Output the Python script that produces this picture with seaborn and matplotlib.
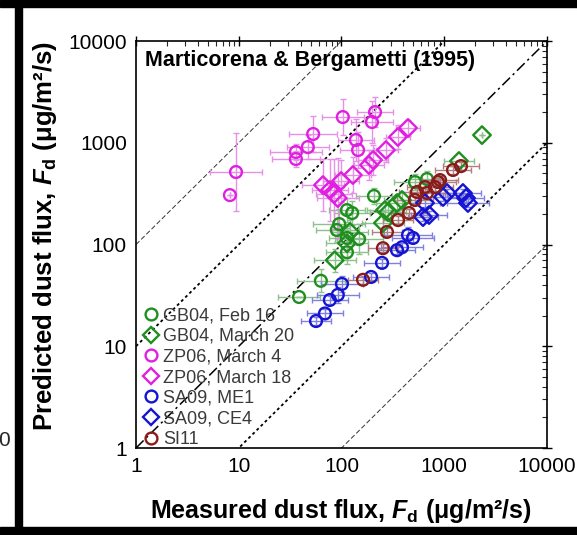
import numpy as np
import pandas as pd
import matplotlib
matplotlib.use("Agg")
import matplotlib.pyplot as plt
from matplotlib.lines import Line2D
from matplotlib.patches import Rectangle
import seaborn as sns

sns.set_theme(style="white")
plt.rcParams['font.family'] = ['Liberation Sans', 'DejaVu Sans']
plt.rcParams['mathtext.fontset'] = 'custom'
plt.rcParams['mathtext.rm'] = 'Liberation Sans:bold'
plt.rcParams['mathtext.it'] = 'Liberation Sans:italic:bold'
plt.rcParams['mathtext.bf'] = 'Liberation Sans:bold'

# ---- data (measured, predicted, x error factor, y error factor) ----
gb04_feb_x = [38.6, 63, 113, 127, 95, 90, 113, 148, 113, 207, 519, 679]
gb04_feb_y = [30.5, 44, 218, 204, 159, 139, 116, 113, 84, 300, 411, 440]
gb04_feb_xf = [1.6, 1.7, 1.5, 1.5, 1.8, 1.6, 1.5, 1.7, 1.6, 1.5, 1.6, 1.5]
gb04_feb_yf = [1.0, 1.3, 1.3, 1.3, 1.4, 1.3, 1.3, 1.4, 1.3, 1.2, 1.2, 1.2]

gb04_mar_x = [86, 121, 113, 265, 284, 347, 388, 253, 1390, 2330]
gb04_mar_y = [70, 133, 103, 218, 208, 256, 274, 163, 662, 1190]
gb04_mar_xf = [1.6, 1.5, 1.6, 1.5, 1.5, 1.6, 1.5, 1.6, 1.4, 1.0]
gb04_mar_yf = [1.3, 1.3, 1.4, 1.2, 1.2, 1.2, 1.2, 1.3, 1.0, 1.0]

zp06_m4_x = [9.4, 8.2, 36, 36, 47, 53, 103, 138, 145, 198, 212]
zp06_m4_y = [516, 306, 811, 692, 908, 1220, 1790, 1065, 849, 1600, 2000]
zp06_m4_xf = [1.8, 1.0, 1.8, 1.7, 1.6, 1.7, 1.6, 1.5, 1.5, 1.6, 1.5]
zp06_m4_yf = [2.4, 1.0, 1.2, 1.2, 1.3, 1.5, 1.5, 1.6, 1.5, 1.6, 1.4]

zp06_m18_x = [66, 77, 85, 92, 99, 129, 185, 203, 271, 354, 444]
zp06_m18_y = [384, 343, 314, 286, 421, 482, 604, 677, 849, 1140, 1400]
zp06_m18_xf = [1.6, 1.5, 1.5, 1.6, 1.5, 1.5, 1.4, 1.4, 1.3, 1.3, 1.3]
zp06_m18_yf = [1.8, 2.0, 2.2, 2.5, 1.6, 1.5, 1.4, 1.4, 1.3, 1.3, 1.2]

sa09_me1_x = [56.5, 69, 77, 92, 101, 194, 248, 347, 388, 444, 497]
sa09_me1_y = [17.7, 21, 28.5, 32, 41, 48, 66, 88, 94, 124, 116]
sa09_me1_xf = [1.4, 1.5, 1.5, 1.6, 1.6, 1.5, 1.5, 1.5, 1.6, 1.7, 1.6]
sa09_me1_yf = [1.1, 1.1, 1.1, 1.2, 1.2, 1.1, 1.1, 1.1, 1.1, 1.2, 1.1]

sa09_ce4_x = [621, 711, 650, 973, 1064, 1520, 1630, 1700]
sa09_ce4_y = [186, 195, 256, 293, 321, 321, 286, 256]
sa09_ce4_xf = [1.4, 1.5, 1.4, 1.5, 1.4, 1.5, 1.5, 1.6]
sa09_ce4_yf = [1.1, 1.1, 1.1, 1.1, 1.1, 1.1, 1.1, 1.1]

si11_x = [162, 253, 277, 355, 454, 519, 543, 650, 679, 813, 869, 910, 1217, 1455]
si11_y = [45, 92, 133, 174, 204, 274, 328, 367, 321, 367, 411, 430, 540, 590]
si11_xf = [1.4, 1.4, 1.4, 1.4, 1.5, 1.5, 1.5, 1.5, 1.5, 1.5, 1.5, 1.5, 1.5, 1.5]
si11_yf = [1.1, 1.1, 1.1, 1.1, 1.1, 1.1, 1.1, 1.1, 1.1, 1.1, 1.1, 1.1, 1.1, 1.1]

labels = ["GB04, Feb 16", "GB04, March 20", "ZP06, March 4", "ZP06, March 18",
          "SA09, ME1", "SA09, CE4", "SI11"]
edge_colors = ["#1f8f1f", "#1f8f1f", "#e020e0", "#e020e0", "#1414d2", "#1414d2", "#8b1c1c"]
err_colors = ["#8cc08c", "#8cc08c", "#e690e6", "#e690e6", "#8080e0", "#8080e0", "#b08080"]
markers = ["o", "D", "o", "D", "o", "D", "o"]

series = [
    (gb04_feb_x, gb04_feb_y, gb04_feb_xf, gb04_feb_yf),
    (gb04_mar_x, gb04_mar_y, gb04_mar_xf, gb04_mar_yf),
    (zp06_m4_x, zp06_m4_y, zp06_m4_xf, zp06_m4_yf),
    (zp06_m18_x, zp06_m18_y, zp06_m18_xf, zp06_m18_yf),
    (sa09_me1_x, sa09_me1_y, sa09_me1_xf, sa09_me1_yf),
    (sa09_ce4_x, sa09_ce4_y, sa09_ce4_xf, sa09_ce4_yf),
    (si11_x, si11_y, si11_xf, si11_yf),
]

ref_factors = [100, 10, 1, 0.1, 0.01]
ref_styles = [
    dict(lw=0.7, dashes=(5, 2.5), color="#333333"),
    dict(lw=1.3, dashes=(1.6, 1.6), color="black"),
    dict(lw=1.1, dashes=(7, 2.5, 1.5, 2.5), color="black"),
    dict(lw=1.3, dashes=(1.6, 1.6), color="black"),
    dict(lw=0.7, dashes=(5, 2.5), color="#333333"),
]
axis_range = [1, 10000]

fig = plt.figure(figsize=(5.77, 5.35), dpi=100)
ax = fig.add_axes([0.2357, 0.1626, 0.7123, 0.7607])
ax.set_xscale("log")
ax.set_yscale("log")

# reference lines
for f, st in zip(ref_factors, ref_styles):
    xs = np.array(axis_range, dtype=float)
    ax.plot(xs, xs * f, zorder=1, **st)

for (xv, yv, xf, yf), ec, erc, mk in zip(series, edge_colors, err_colors, markers):
    xv = np.array(xv, float); yv = np.array(yv, float)
    xf = np.array(xf, float); yf = np.array(yf, float)
    xerr = np.vstack([xv - xv / xf, xv * xf - xv])
    yerr = np.vstack([yv - yv / yf, yv * yf - yv])
    ax.errorbar(xv, yv, xerr=xerr, yerr=yerr, fmt="none", ecolor=erc,
                elinewidth=1.0, capsize=2.5, capthick=1.0, zorder=2)

for i, ((xv, yv, xf, yf), ec, mk) in enumerate(zip(series, edge_colors, markers)):
    df = pd.DataFrame({"x": xv, "y": yv})
    sns.scatterplot(data=df, x="x", y="y", marker=mk, s=72 if mk == "o" else 80,
                    color=ec, linewidth=1.7, ax=ax, zorder=3 + i, legend=False)
    coll = ax.collections[-1]
    coll.set_facecolor("none")
    coll.set_edgecolor(ec)
    coll.set_linewidth(1.7)

ax.set_xlim(axis_range)
ax.set_ylim(axis_range)
ticks = [1, 10, 100, 1000, 10000]
ax.set_xticks(ticks)
ax.set_yticks(ticks)
ax.set_xticklabels([str(t) for t in ticks])
ax.set_yticklabels([str(t) for t in ticks])
ax.tick_params(which="major", direction="inout", length=7, width=1.0,
               labelsize=15, top=True, right=True, pad=3, colors="black")
ax.tick_params(which="minor", direction="in", length=3.5, width=0.8, top=True, right=True)
for sp in ax.spines.values():
    sp.set_visible(True)
    sp.set_color("black")
    sp.set_linewidth(1.2)
ax.set_xlabel("")
ax.set_ylabel("")

fig.text(341 / 577, (535 - 511) / 535, r"Measured dust flux, $F_\mathrm{d}$ (μg/m²/s)",
         fontsize=18, fontweight="bold", ha="center", va="center", color="black")
fig.text(45 / 577, (535 - 236) / 535, r"Predicted dust flux, $F_\mathrm{d}$ (μg/m²/s)",
         fontsize=18.5, fontweight="bold", ha="center", va="center", rotation=90,
         color="black")

ax.text((145 - 136) / 411, (448 - 66) / 407, "Marticorena & Bergametti (1995)",
        transform=ax.transAxes, fontsize=15.5, fontweight="bold", va="baseline",
        ha="left", color="black")

handles = [Line2D([], [], marker=m, linestyle="none", markerfacecolor="none",
                  markeredgecolor=c, markeredgewidth=1.7,
                  markersize=8.5 if m == "o" else 8.5)
           for m, c in zip(markers, edge_colors)]
leg = ax.legend(handles, labels, loc="lower left",
                bbox_to_anchor=((140 - 136) / 411, (448 - 448) / 407),
                frameon=False, fontsize=13, handletextpad=0.1, labelspacing=0.2,
                handlelength=1.2, borderaxespad=0.0, borderpad=0.0)
for t in leg.get_texts():
    t.set_color("#3a3a3a")

# figure frame pieces (panel border)
fig.patches.append(Rectangle((0, 1 - 7 / 535), 1, 7 / 535, transform=fig.transFigure,
                             color="black", zorder=10))
fig.patches.append(Rectangle((0, 0), 1, 8 / 535, transform=fig.transFigure,
                             color="black", zorder=10))
fig.patches.append(Rectangle((15 / 577, 0), 7 / 577, 1, transform=fig.transFigure,
                             color="black", zorder=10))
fig.text(-0.004, (535 - 441) / 535, "0", fontsize=15, va="center", ha="left")

fig.savefig("out.png", dpi=100)
